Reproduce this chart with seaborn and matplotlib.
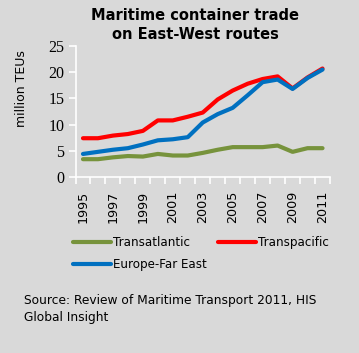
import matplotlib
matplotlib.use("Agg")
import matplotlib.pyplot as plt
import seaborn as sns
import pandas as pd

years = list(range(1995, 2012))
transatlantic = [3.4, 3.4, 3.75, 4.0, 3.9, 4.4, 4.1, 4.1, 4.6, 5.2, 5.7, 5.7, 5.7, 6.0, 4.8, 5.5, 5.5]
transpacific = [7.4, 7.4, 7.9, 8.2, 8.8, 10.8, 10.8, 11.5, 12.3, 14.8, 16.5, 17.8, 18.7, 19.2, 16.9, 19.0, 20.7]
europe_fareast = [4.4, 4.8, 5.2, 5.5, 6.2, 7.0, 7.2, 7.6, 10.4, 12.0, 13.2, 15.6, 18.1, 18.6, 16.8, 18.9, 20.5]
series_names = ["Transatlantic", "Transpacific", "Europe-Far East"]
colors = {"Transatlantic": "#77933c", "Transpacific": "#ff0000", "Europe-Far East": "#0070c0"}
y_ticks = [0, 5, 10, 15, 20, 25]

rows = []
for name, vals in zip(series_names, [transatlantic, transpacific, europe_fareast]):
    for i, (yr, v) in enumerate(zip(years, vals)):
        rows.append({"idx": i, "year": yr, "value": v, "series": name})
df = pd.DataFrame(rows)

bg = "#d9d9d9"
sns.set_style("white")
plt.rcParams['font.family'] = ['DejaVu Sans']
plt.rcParams['text.color'] = 'black'
plt.rcParams['xtick.labelcolor'] = 'black'
plt.rcParams['ytick.labelcolor'] = 'black'

fig = plt.figure(figsize=(3.59, 3.53), dpi=100, facecolor=bg)
ax = fig.add_axes([75.5/359, 1-177/353, 254.5/359, 131/353], facecolor=bg)

sns.lineplot(data=df, x="idx", y="value", hue="series", hue_order=["Transatlantic", "Transpacific", "Europe-Far East"],
             palette=colors, linewidth=3.0, ax=ax, legend=True, sort=False)

ax.set_xlim(-0.5, len(years) - 0.5)
ax.set_ylim(0, 25)
ax.set_xlabel("")
ax.set_ylabel("")

for s in ["top", "right"]:
    ax.spines[s].set_visible(False)
for s in ["left", "bottom"]:
    ax.spines[s].set_color("white")
    ax.spines[s].set_linewidth(1.2)

ax.set_yticks(y_ticks)
ax.set_yticklabels([str(t) for t in y_ticks], fontfamily="Liberation Serif", fontsize=11.5)
ax.tick_params(axis="y", direction="out", length=5, width=1.2, color="white", pad=3, left=True)

ax.set_xticks([i - 0.5 for i in range(len(years) + 1)])
ax.set_xticklabels([])
ax.tick_params(axis="x", which="major", direction="out", length=5, width=1.2, color="white", bottom=True)
ax.set_xticks(list(range(0, len(years), 2)), minor=True)
ax.set_xticklabels([str(y) for y in years[::2]], minor=True, rotation=90, fontsize=9.2)
ax.tick_params(axis="x", which="minor", length=0, pad=10)

fig.text(22/359, 1-89/353, "million TEUs", rotation=90, ha="center", va="center", fontsize=9)

fig.text(195/359, 1-25/353, "Maritime container trade\non East-West routes", ha="center", va="center",
         fontsize=10.5, fontweight="bold", linespacing=1.35)

handles, labels = ax.get_legend_handles_labels()
ax.get_legend().remove()
hmap = dict(zip(labels, handles))
order = ["Transatlantic", "Europe-Far East", "Transpacific"]
leg = fig.legend([hmap[k] for k in order], order, ncol=2, loc="upper left",
                 bbox_to_anchor=(73/359, 1-236/353), frameon=False, fontsize=8.6,
                 handlelength=3.2, handletextpad=0.15, columnspacing=0.9, labelspacing=0.75,
                 borderaxespad=0, borderpad=0)
for t in leg.get_texts():
    t.set_color("black")

fig.text(24/359, 1-309/353, "Source: Review of Maritime Transport 2011, HIS\nGlobal Insight", ha="left", va="center",
         fontsize=8.8, linespacing=1.45)

fig.savefig("out.png", dpi=100, facecolor=bg)
